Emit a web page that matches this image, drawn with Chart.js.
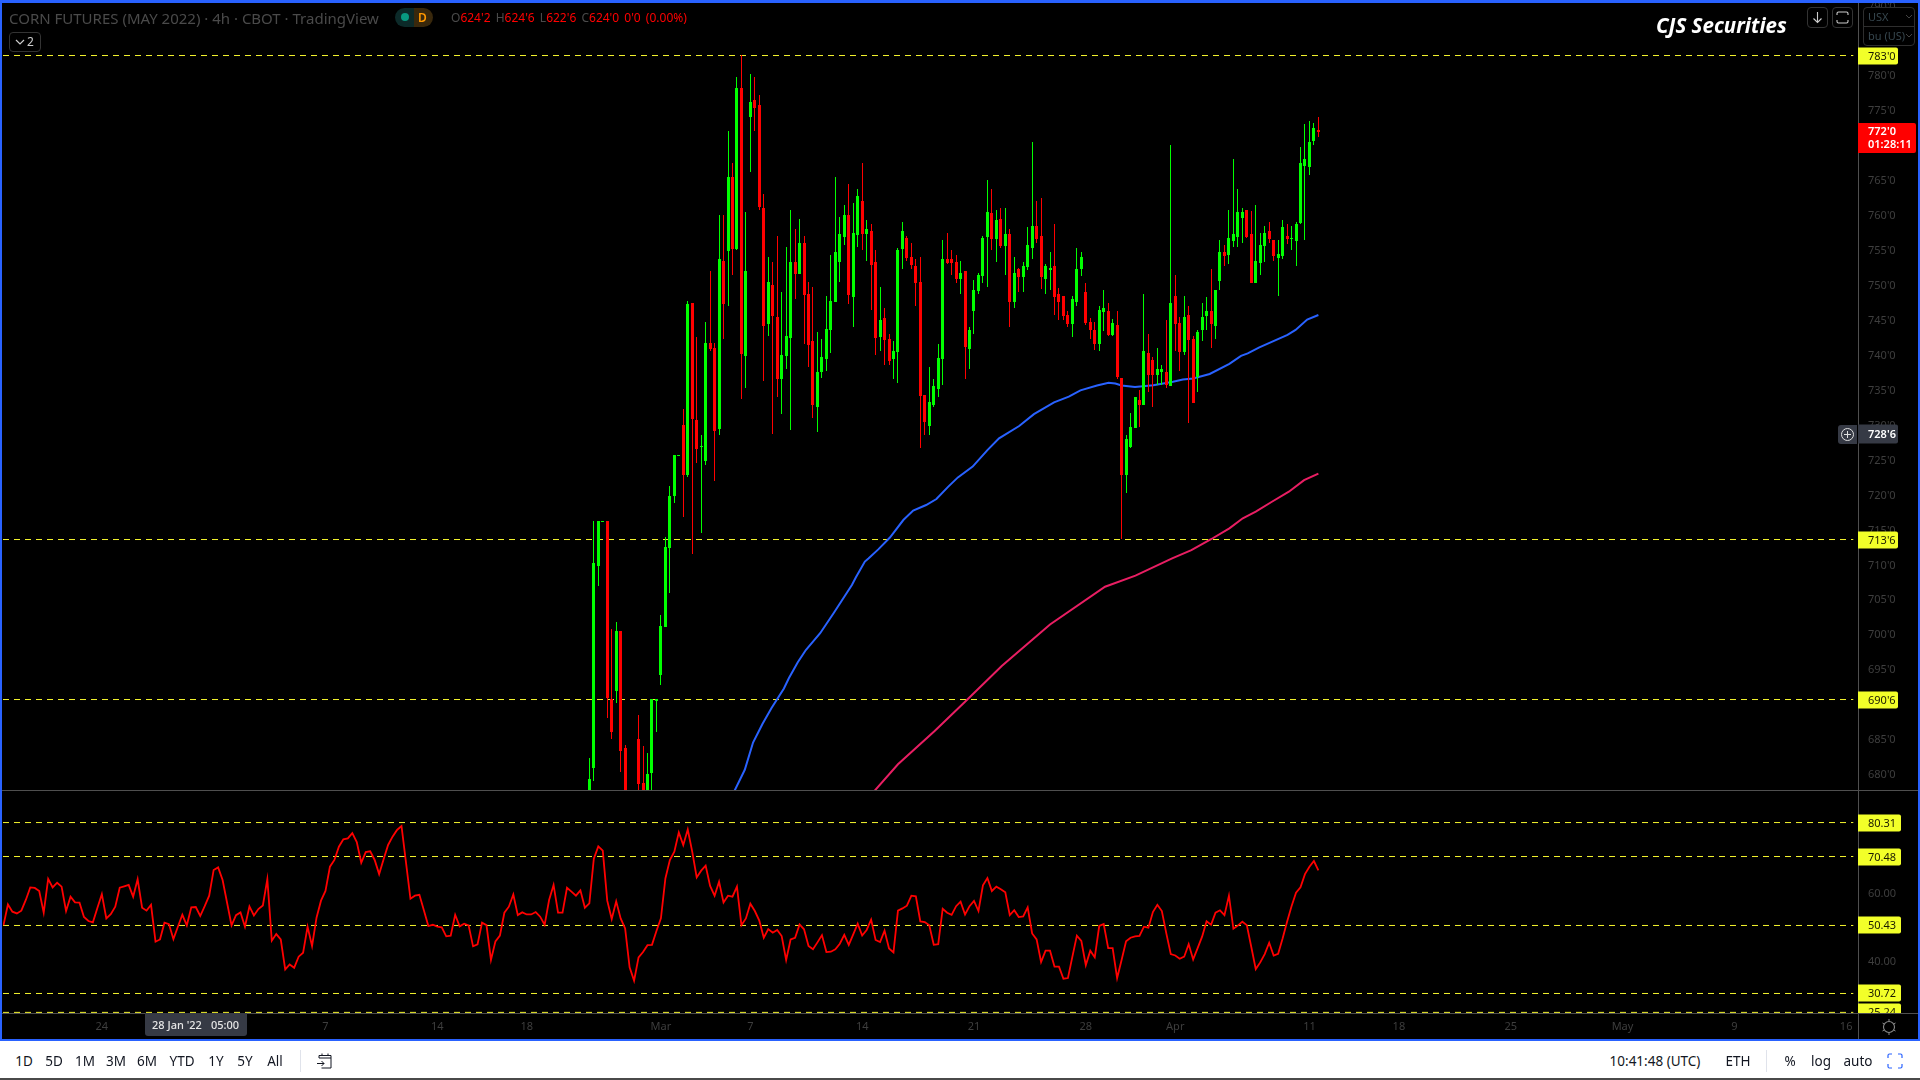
<!DOCTYPE html>
<html>
<head>
<meta charset="utf-8">
<title>CORN FUTURES (MAY 2022)</title>
<script src="https://cdn.jsdelivr.net/npm/chart.js@4.4.0/dist/chart.umd.js"></script>
<style>
    html, body { margin: 0; padding: 0; background: #fff; width: 1920px; height: 1080px; overflow: hidden; }
    body { font-family: "Noto Sans", sans-serif; position: relative; }
    canvas { position: absolute; left: 0; }
    .abs { position: absolute; white-space: nowrap; }
    .line { position: absolute; background: #4f4f4f; }
    .blue { position: absolute; background: #2962ff; }
    .tool { position: absolute; top: 1052px; line-height: 18px; font-size: 13.5px; color: #131722; transform: translateX(-50%); white-space: nowrap; }
    .box { position: absolute; border: 1px solid #2e2e2e; border-radius: 4px; box-sizing: border-box; }
</style>
</head>
<body>
<div class="abs" style="left:0;top:0;width:1920px;height:1040px;background:#000"></div>
<div class="line" style="left:2px;top:790px;width:1916px;height:1px"></div>
<div class="line" style="left:2px;top:1013px;width:1916px;height:1px"></div>
<div class="line" style="left:1858px;top:3px;width:1px;height:1037px"></div>
<canvas id="priceChart" width="1920" height="790" style="top:0"></canvas>
<canvas id="rsiChart" width="1920" height="250" style="top:790px"></canvas>

<div class="abs" style="left:9px;top:9px;font-size:15px;line-height:18px;color:#4a4a4a">CORN FUTURES (MAY 2022) · 4h · CBOT · TradingView</div>
<div class="abs" style="left:395px;top:8px;width:19px;height:19px;background:#0c2a29;border-radius:10px 0 0 10px"></div>
<div class="abs" style="left:414px;top:8px;width:19px;height:19px;background:#39280c;border-radius:0 10px 10px 0"></div>
<div class="abs" style="left:401px;top:13px;width:8px;height:8px;background:#089981;border-radius:50%"></div>
<div class="abs" style="left:418px;top:8px;font-size:12px;line-height:19px;font-weight:600;color:#ff9800">D</div>
<div class="abs" style="left:451px;top:9px;font-size:12px;line-height:18px;color:#ff0000;word-spacing:2px"><span style="color:#4a4a4a">O</span>624'2 <span style="color:#4a4a4a">H</span>624'6 <span style="color:#4a4a4a">L</span>622'6 <span style="color:#4a4a4a">C</span>624'0 0'0 (0.00%)</div>
<div class="box" style="left:9px;top:32px;width:32px;height:20px;border-color:#333"></div>
<svg class="abs" style="left:15px;top:38px" width="10" height="8"><path d="M1 2l4 4 4-4" fill="none" stroke="#ccc" stroke-width="1.2"/></svg>
<div class="abs" style="left:27px;top:32px;font-size:12px;line-height:20px;color:#ccc">2</div>

<div class="abs" style="left:1656px;top:12px;font-size:20.5px;line-height:26px;font-weight:700;font-style:italic;color:#fff">CJS Securities</div>
<div class="box" style="left:1807px;top:7px;width:21px;height:21px;border-color:#333"></div>
<svg class="abs" style="left:1811px;top:11px" width="13" height="13"><path d="M6.5 1v10M2.5 7.5l4 4 4-4" fill="none" stroke="#ccc" stroke-width="1.1"/></svg>
<div class="box" style="left:1832px;top:7px;width:21px;height:21px;border-color:#333"></div>
<svg class="abs" style="left:1836px;top:11px" width="13" height="13"><path d="M1 4V2.5Q1 1 2.5 1h8Q12 1 12 2.5V4M1 9v1.5Q1 12 2.5 12h8q1.500 0 1.500-1.500V9" fill="none" stroke="#ccc" stroke-width="1.100"/></svg>
<div class="box" style="left:1863px;top:7px;width:52px;height:39px;background:#000;border-color:#2e2e2e"></div>
<div class="abs" style="left:1864px;top:26px;width:50px;height:1px;background:#2e2e2e"></div>
<div class="abs" style="left:1868px;top:8px;font-size:11px;line-height:18px;color:#37474f">USX</div>
<div class="abs" style="left:1868px;top:27px;font-size:11px;line-height:18px;color:#37474f">bu (US)</div>
<svg class="abs" style="left:1905px;top:14px" width="8" height="6"><path d="M1 1l3 3 3-3" fill="none" stroke="#444" stroke-width="1"/></svg>
<svg class="abs" style="left:1905px;top:33px" width="8" height="6"><path d="M1 1l3 3 3-3" fill="none" stroke="#444" stroke-width="1"/></svg>

<div class="abs" style="left:1838px;top:425px;width:19px;height:19px;background:#363a45;border-radius:3px 0 0 3px"></div>
<svg class="abs" style="left:1840px;top:427px" width="15" height="15"><circle cx="7.500" cy="7.500" r="6" fill="none" stroke="#e0e0e0" stroke-width="1"/><path d="M7.500 4v7M4 7.500h7" stroke="#e0e0e0" stroke-width="1"/></svg>

<div class="abs" style="left:145px;top:1013px;width:102px;height:23px;background:#363a45;border-radius:0 0 3px 3px"></div>
<div class="abs" style="left:152px;top:1014px;font-size:11px;line-height:22px;font-weight:500;color:#e6e6e6">28 Jan '22</div>
<div class="abs" style="left:211px;top:1014px;font-size:11px;line-height:22px;font-weight:500;color:#e6e6e6">05:00</div>
<svg class="abs" style="left:1880px;top:1018px" width="18" height="18"><circle cx="9" cy="9" r="5.500" fill="none" stroke="#8a8a8a" stroke-width="1.100"/><path d="M9 1v2.500M9 14.500V17M2.500 5l2 1.200M13.500 11.800l2 1.200M2.500 13l2-1.200M13.500 6.200l2-1.200" stroke="#8a8a8a" stroke-width="1"/></svg>

<div class="blue" style="left:0;top:0;width:1920px;height:3px"></div>
<div class="blue" style="left:0;top:0;width:2px;height:1041px"></div>
<div class="blue" style="left:1918px;top:0;width:2px;height:1041px"></div>
<div class="blue" style="left:0;top:1039px;width:1920px;height:2px"></div>
<div class="abs" style="left:0;top:1078px;width:1920px;height:2px;background:#4a4a4a"></div>

<div class="tool" style="left:24px">1D</div>
<div class="tool" style="left:54px">5D</div>
<div class="tool" style="left:85px">1M</div>
<div class="tool" style="left:116px">3M</div>
<div class="tool" style="left:147px">6M</div>
<div class="tool" style="left:182px">YTD</div>
<div class="tool" style="left:216px">1Y</div>
<div class="tool" style="left:245px">5Y</div>
<div class="tool" style="left:275px">All</div>
<div class="abs" style="left:300px;top:1050px;width:1px;height:22px;background:#e0e3eb"></div>
<svg class="abs" style="left:316px;top:1052px" width="18" height="18"><path d="M3 6V3.500h12V16H5.500M3 6h12M6 1.500V4M12 1.500V4M1 11.500h7M5.500 9l2.500 2.500L5.500 14" fill="none" stroke="#131722" stroke-width="1"/></svg>
<div class="tool" style="left:1655px">10:41:48 (UTC)</div>
<div class="tool" style="left:1738px">ETH</div>
<div class="abs" style="left:1766px;top:1050px;width:1px;height:22px;background:#e0e3eb"></div>
<div class="tool" style="left:1790px">%</div>
<div class="tool" style="left:1821px">log</div>
<div class="tool" style="left:1858px">auto</div>
<svg class="abs" style="left:1887px;top:1053px" width="16" height="16"><path d="M1 5V2.500Q1 1 2.500 1H5M11 1h2.500Q15 1 15 2.500V5M15 11v2.500Q15 15 13.500 15H11M5 15H2.500Q1 15 1 13.500V11" fill="none" stroke="#2962ff" stroke-width="1.200"/></svg>

<script>
const opens = [
    675, 680.9, 709.8, 716.2, 716.2, 690.7, 691.9, 700.5, 683.7, 676,
    672, 685, 678.7, 676, 680.1, 690.4, 694.1, 701.1, 712.3, 719.8,
    725.7, 729.95, 722.8, 747.4, 730.7, 726.9, 724.8, 741.7, 741, 729.4,
    753.4, 754.9, 765.4, 755.1, 778.2, 739.8, 774, 776.5, 775.75, 761,
    744.4, 750, 745.4, 736.5, 739.8, 742.4, 753.3, 751.5, 756, 748.7,
    742, 732.5, 737.5, 739.4, 743.5, 747.55, 753.3, 756.85, 760, 748.3,
    757.15, 762, 757.3, 757.7, 753.3, 742.5, 745.3, 742.25, 739.4, 740.4,
    755.15, 756.7, 754, 752.7, 750.4, 734.25, 729.8, 732.8, 735.1, 739.4,
    753.7, 753.7, 753.3, 750.85, 752, 740.8, 746.3, 749.1, 751.3, 756.85,
    760.3, 756.6, 759.4, 755.6, 757.3, 747.55, 752.3, 751.1, 752.55, 755.3,
    758.4, 757, 750.85, 752.1, 752.7, 748.7, 748.4, 745.7, 744.4, 747.55,
    752.3, 749, 744.7, 743.55, 741.55, 746.1, 746.25, 742.85, 744.25, 736.65,
    722.8, 726.8, 729.5, 733.5, 732.8, 740.25, 739.25, 737.1, 737.55, 737.55,
    735.5, 748.4, 744.55, 740.4, 745.7, 742.25, 736.8, 743.5, 745.55, 746.25,
    744.1, 750.55, 754.7, 754.3, 756.3, 756.85, 759.55, 760.7, 757.3, 750.3,
    753.1, 755.55, 757.7, 756.4, 753.85, 754.1, 757, 756.55, 756.3, 758.85,
    767, 766.9, 770.6, 772.2
];
const highs = [
    682.25, 716.2, 716.2, 716.2, 716.2, 700.7, 701.75, 700.5, 684.15, 676.5,
    676, 688.45, 684, 683, 690.7, 690.7, 702.75, 713.9, 721.2, 725.7,
    725.7, 732.25, 747.7, 747.4, 742.55, 728.5, 744.7, 752, 741.7, 760,
    760, 772, 767.4, 779.8, 782.85, 760.4, 780.2, 779.8, 777.2, 763,
    754, 753.3, 757, 749, 755.4, 760.7, 758, 759.4, 757, 750.4,
    749.7, 743.25, 742.25, 748.4, 754.3, 765.4, 759.7, 761.4, 764.4, 761.7,
    763.7, 767.4, 759.3, 758.7, 755, 749.7, 746.7, 743, 742, 755.3,
    759, 757, 756, 753.7, 754, 734.25, 738.25, 736.5, 741.5, 756.4,
    757.4, 755, 754.3, 753.4, 752, 744, 750.7, 751.7, 757, 765,
    763.7, 760.7, 761, 761, 758, 754, 752.4, 753.3, 758.3, 770.45,
    762, 762.4, 753, 754.7, 758.7, 749.55, 748.4, 746.25, 748.4, 755.3,
    754.7, 750.3, 745.25, 744.7, 747, 749.3, 747.4, 745.1, 746.25, 736.65,
    728.5, 731.65, 733.95, 734.95, 748.7, 743, 739.7, 741, 738.55, 745,
    770, 751.4, 745.4, 748.4, 747, 742.7, 743.5, 747.4, 748.25, 752.3,
    749.3, 756.4, 755.7, 760.7, 768, 763.7, 761, 760.7, 760.55, 761.4,
    757.4, 758.4, 759, 756.4, 756.4, 759.3, 758.7, 758.4, 759, 769.7,
    773, 773.5, 773.2, 774
];
const lows = [
    673, 679.05, 706.95, 716.2, 688, 685.05, 690.2, 680.35, 672, 670,
    670, 676, 675, 675, 676.5, 686.05, 692.75, 701.1, 705.9, 718.8,
    725.7, 716.75, 722.5, 711.5, 724.5, 714.5, 724.2, 740.5, 722, 728.5,
    742.3, 747, 751.4, 755, 733.7, 735.3, 766.2, 772, 760.7, 736.3,
    742.7, 728.65, 734, 731.5, 738, 729.2, 748, 751.5, 741.5, 738.25,
    731, 729, 736.7, 737.7, 740.25, 747.55, 750.4, 755.7, 747.3, 744,
    755.4, 755, 753.4, 746.4, 740, 740.5, 738.5, 738.5, 736.5, 736,
    752.3, 753.4, 752.3, 747, 726.65, 728.5, 728.5, 732.5, 734, 735.7,
    753, 751.4, 750.3, 748.7, 736.5, 738, 743, 748.7, 750.3, 749.7,
    755, 753.3, 755.3, 751.4, 744, 746.7, 749, 749, 752.1, 753.7,
    756, 749.4, 748.7, 749.3, 745.7, 745, 745, 744, 742.5, 747,
    751.3, 744.25, 742.25, 740.7, 740.5, 743.4, 742.7, 742.7, 736.5, 713.6,
    720.2, 726.65, 729.5, 729.65, 732.8, 734.65, 732.5, 735.7, 735.7, 735.25,
    735.5, 740.5, 737.7, 740, 730.2, 733.1, 734.65, 742, 743.5, 741,
    742.25, 749.3, 752.7, 753, 755.4, 755.4, 756, 756.7, 750.3, 750.3,
    751.4, 753.3, 756, 753.4, 748.4, 753.7, 755.85, 755, 752.7, 758.7,
    756.4, 765.7, 770, 771.2
];
const closes = [
    679.3, 710.15, 716.2, 716.2, 690.9, 686.05, 700.45, 683.35, 676, 673,
    675, 678.6, 676, 680, 690.7, 690.7, 701.2, 712.5, 719.8, 725.7,
    725.7, 722.8, 747.3, 730.8, 726.5, 727, 741.7, 740.8, 729.1, 753.7,
    747.3, 765.4, 755.1, 778.2, 740.1, 752, 776.2, 775.3, 761.15, 744.1,
    750.4, 745.55, 736.5, 740, 742.7, 753.3, 751.5, 756, 748.5, 741.4,
    732.8, 737.5, 739.7, 743.7, 747.7, 754.7, 757.3, 760, 748.55, 757.4,
    762.7, 757.3, 758, 752.85, 742.4, 745, 742.1, 739.1, 740.5, 755,
    757.7, 753.85, 752.85, 750.3, 734.1, 730.4, 733.25, 735.5, 739.5, 753.7,
    753.1, 753.1, 750.85, 751.7, 741.1, 743.5, 749.3, 751.4, 756.7, 760.4,
    756.6, 759.3, 755.6, 757.3, 747.55, 751.7, 751.1, 752.7, 755.7, 758.4,
    756.6, 751.1, 752.7, 752.4, 748.3, 747.55, 745.55, 744.4, 748, 752.3,
    754, 744.55, 743.55, 741.55, 746.4, 746.7, 742.85, 744.55, 736.8, 722.8,
    727.95, 729.65, 733.95, 732.8, 740.5, 737.1, 737.1, 738, 738, 735.7,
    747.4, 744.4, 740.4, 745.4, 742.1, 733.1, 743.25, 745.4, 746.25, 744.4,
    749.3, 754.7, 754.1, 756.7, 757.3, 760.4, 760.4, 756.85, 750.3, 753.4,
    755.7, 757.4, 756.6, 754.1, 754.4, 758.3, 756.6, 756.7, 758.7, 767.4,
    768, 770.45, 772.45, 771.9
];

// slow and fast moving averages, read at the bends of each curve
const blueBars = [32, 34.75, 36.6, 38.7, 40.7, 43.5, 44.6, 46.6, 48.4, 51.6, 54.6, 58.7, 59.6, 61.6, 62.4, 64.6, 67.2, 70.2, 72.4, 75.3, 77.6, 80.2, 82.4, 85.7, 89, 91.6, 96.1, 99.4, 103.9, 107.2, 109.8, 113.5, 116.1, 117.6, 119, 122, 126.1, 130.5, 132.7, 135, 138.7, 143.1, 145.7, 147.2, 149.8, 156.1, 157.9, 160.5, 163];
const blueValues = [677, 680.6, 684.5, 687.15, 689.4, 692.25, 693.7, 696, 697.75, 700.15, 703, 707.05, 708.15, 710.4, 710.85, 712.15, 713.85, 716.35, 717.7, 718.5, 719.35, 721.1, 722.45, 724, 726.35, 728.05, 729.8, 731.5, 733.2, 734, 734.9, 735.6, 736, 735.9, 735.6, 735.4, 735.65, 736.15, 736.45, 736.6, 737.25, 738.7, 739.85, 740.2, 741.05, 742.85, 743.55, 745.05, 745.7];
const pinkBars = [63.5, 69, 77.2, 84, 92.2, 103, 115.3, 122.1, 130.3, 134.6, 139, 143.1, 146.1, 149, 152.7, 156.4, 159.8, 163];
const pinkValues = [677.4, 681.4, 686.15, 690.35, 695.45, 701.4, 706.8, 708.4, 710.85, 712.05, 713.6, 715.15, 716.6, 717.55, 719, 720.4, 722.05, 723];

const rsiValues = [
    50.43, 56.5, 54.4, 53.9, 54.7, 57.8, 61.45, 61.3, 60.4, 54.1, 63.9, 61.45, 62.8, 61.65, 54.6, 58.75, 57.1, 57, 52.85, 51.7,
    51.3, 55.45, 59.5, 52.45, 53.7, 55.85, 61.35, 61.75, 62.15, 58.75, 63.8, 55.55, 54.7, 56.4, 45.7, 46.35, 51.2, 50.8, 46.45, 50.05,
    53.5, 50.45, 55.65, 55.75, 53.15, 56, 59.05, 66.5, 67.25, 63.6, 57, 50.45, 53.4, 54.2, 50.05, 55.95, 53.3, 55.15, 56.2, 63.8,
    46, 47.9, 46.35, 37.65, 39.1, 38.15, 41.35, 42.5, 50.05, 44.45, 52.65, 57.6, 60.4, 67.45, 69.4, 73.25, 75.4, 75.65, 77.2, 74.6,
    68.6, 71.7, 71.9, 69.4, 65.3, 69.6, 73.75, 76.15, 78.1, 79.25, 68.7, 58.15, 59.05, 59.3, 54.85, 50.25, 50.6, 50.05, 49.85, 47.25,
    47.45, 53.5, 50.15, 50.9, 50.45, 44.35, 44.9, 51.2, 50.5, 40.4, 45.8, 47.45, 54.1, 55.85, 59.4, 53.4, 54.2, 53.6, 53.6, 54.3,
    52.95, 50.6, 57.8, 62.15, 54.1, 54.1, 61.35, 60.2, 59.05, 60.6, 55.55, 56.8, 69.75, 73.35, 72.1, 57.6, 52.3, 57.4, 52.45, 49.55,
    38.25, 34.4, 41.15, 42.7, 44.7, 44.8, 48.8,
    52.45, 64.05, 69.4, 71.8, 77.4, 73.75, 78.2, 71.8, 64.35, 66.3, 67.75, 61.85, 59.05, 63.1, 57.1, 59.05, 58.75, 61.65, 50.5, 52.45,
    56.7, 54.6, 51.8, 46.85, 49.35, 48.3, 49.1, 47.35, 40.4, 46.35, 46.85, 50.7, 49.3, 44.45, 43.5, 45.5, 47.6, 42.7, 42.8, 43.5,
    45.1, 47.7, 44.75, 47.8, 50.9, 47.5, 49.1, 52.1, 46.2, 45.6, 48.9, 43.75, 42.6, 54.7, 55.35, 56.15, 59.05, 58.85, 51.6, 51.4,
    50.45, 44.8, 45, 55.25, 54.1, 53.5, 56, 57.3, 53.6, 56, 57.5, 54.6, 62.05, 64.15, 60.4, 61.65, 60.9, 60, 53.4, 54.85,
    52.85, 53.05, 55.65, 48.1, 46.35, 39.8, 43.1, 43.1, 38.45, 38.45, 34.95, 35.15, 41.35, 47.45, 45.9, 38.9, 43.1, 41.15, 50.25, 50.8,
    43.85, 43.85, 35.15, 40.4, 45.8, 46.85, 47.25, 47.35, 50.05, 49.75, 54.3, 56.4, 54.6, 48.1, 42.1, 41.7, 40.75, 41.35, 45, 40.55,
    43.85, 47.15, 51.6, 50.6, 54.1, 54.8, 53.4, 59.05, 49.45, 50.35, 51.5, 50.5, 44.15, 37.75, 39.7, 42.1, 45.4, 41.7, 42.2, 46.65,
    51.5, 56, 59.9, 61.45, 65.3, 67.45, 69.1, 66.4
];
const rsiFirstBar = -131;

const priceTicks = [790, 780, 775, 765, 760, 755, 750, 745, 740, 735, 730, 725, 720, 715, 710, 705, 700, 695, 685, 680];
const rsiTicks = [60, 40];
const timeTickBars = [-109, -59, -34, -14, 16, 36, 61, 86, 111, 131, 161, 181, 206, 231, 256, 281];
const timeTickLabels = ['24', '7', '14', '18', 'Mar', '7', '14', '21', '28', 'Apr', '11', '18', '25', 'May', '9', '16'];

const priceLevels = [782.83, 713.56, 690.66];
const priceLevelLabels = ["783'0", "713'6", "690'6"];
const rsiLevels = [80.25, 70.4, 50.4, 30.68, 25.2];
const rsiLevelLabels = ['80.31', '70.48', '50.43', '30.72', '25.24'];
const lastPrice = 771.9;
const crosshairPrice = 728.75;

const FONT = '"Noto Sans", sans-serif';
const BAR_MIN = -131.1;
const BAR_MAX = 283.65;
const LEVEL_END = 282.6;
const GREEN = '#00ff00';
const RED = '#ff0000';
const YELLOW = '#f2ff29';
const TICK_COLOR = '#3e3e3e';

Chart.defaults.animation = false;
Chart.defaults.font.family = FONT;

const barIndex = opens.map((_, i) => i);
const upBars = barIndex.filter(i => closes[i] >= opens[i]);
const downBars = barIndex.filter(i => closes[i] < opens[i]);

function wickSet(bars, color) {
    return {
        type: 'bar', order: 2, grouped: false, barThickness: 1, backgroundColor: color, inflateAmount: 0, borderWidth: 0,
        data: bars.map(i => ({ x: i, y: [lows[i], highs[i]] }))
    };
}

function bodySet(bars, color) {
    return {
        type: 'bar', order: 1, grouped: false, barThickness: 3, backgroundColor: color, inflateAmount: 0, borderWidth: 0,
        data: bars.map(i => ({ x: i, y: [opens[i], closes[i]] }))
    };
}

function curveSet(xs, ys, color, width, order) {
    return {
        type: 'line', order: order, borderColor: color, borderWidth: width, pointRadius: 0, tension: 0,
        data: xs.map((x, i) => ({ x: x, y: ys[i] }))
    };
}

function levelSet(value) {
    return {
        type: 'line', order: 4, borderColor: '#f5f52e', borderWidth: 1, borderDash: [6, 5], pointRadius: 0,
        data: [{ x: BAR_MIN, y: value }, { x: LEVEL_END, y: value }]
    };
}

// keep candles on whole pixels, otherwise the 1px wicks smear
const snapBars = {
    id: 'snapBars',
    beforeDatasetsDraw(chart) {
        chart.getSortedVisibleDatasetMetas().forEach(meta => {
            if (meta.type !== 'bar') return;
            meta.data.forEach(el => {
                el.x = Math.floor(el.x) + 0.5;
                el.y = Math.round(el.y);
                el.base = Math.round(el.base);
                if (el.base === el.y) el.base = el.y + 1;
            });
        });
    }
};

function drawTag(ctx, left, y, width, height, color, lines, textColor, bold) {
    ctx.fillStyle = color;
    ctx.beginPath();
    ctx.roundRect(left, y - height / 2, width, height, [0, 2, 2, 0]);
    ctx.fill();
    ctx.fillStyle = textColor;
    ctx.font = (bold ? '600 ' : '') + '11px ' + FONT;
    ctx.textBaseline = 'middle';
    ctx.textAlign = 'left';
    lines.forEach((text, i) => {
        ctx.fillText(text, left + 10, y + (i - (lines.length - 1) / 2) * 13 + 0.5);
    });
}

const priceTags = {
    id: 'priceTags',
    afterDraw(chart) {
        const { ctx, scales } = chart;
        const left = chart.chartArea.right;
        priceLevels.forEach((value, i) => {
            const y = Math.round(scales.y.getPixelForValue(value));
            drawTag(ctx, left, y, 40, 17, YELLOW, [priceLevelLabels[i]], '#1a1a00', false);
        });
        drawTag(ctx, left, Math.round(scales.y.getPixelForValue(lastPrice)) + 6, 58, 30, RED, ["772'0", '01:28:11'], '#ffffff', true);
        drawTag(ctx, left, Math.round(scales.y.getPixelForValue(crosshairPrice)) + 1, 40, 19, '#363a45', ["728'6"], '#ffffff', true);
    }
};

const rsiTags = {
    id: 'rsiTags',
    afterDraw(chart) {
        const { ctx, scales } = chart;
        const left = chart.chartArea.right;
        ctx.save();
        ctx.beginPath();
        ctx.rect(0, 0, chart.width, chart.chartArea.bottom);
        ctx.clip();
        rsiLevels.forEach((value, i) => {
            const y = Math.round(scales.y.getPixelForValue(value));
            drawTag(ctx, left, y, 43, 17, YELLOW, [rsiLevelLabels[i]], '#1a1a00', false);
        });
        ctx.restore();
    }
};

function fixedAxis(width) {
    return scale => {
        scale.width = width;
        scale.paddingTop = 0;
        scale.paddingBottom = 0;
    };
}

new Chart(document.getElementById('priceChart'), {
    type: 'bar',
    data: {
        datasets: [
            wickSet(upBars, GREEN),
            wickSet(downBars, RED),
            bodySet(upBars, GREEN),
            bodySet(downBars, RED),
            curveSet(blueBars, blueValues, '#2962ff', 2, 3),
            curveSet(pinkBars, pinkValues, '#e91e63', 2, 3)
        ].concat(priceLevels.map(levelSet))
    },
    options: {
        responsive: false,
        layout: { padding: { left: 3, right: 0, top: 3, bottom: 0 } },
        plugins: { legend: { display: false }, tooltip: { enabled: false } },
        scales: {
            x: { type: 'linear', min: BAR_MIN, max: BAR_MAX, offset: false, display: false, grid: { display: false } },
            y: {
                position: 'right', min: 677.71, max: 790.348,
                grid: { display: false, drawTicks: false },
                border: { display: false },
                afterFit: fixedAxis(62),
                afterBuildTicks: scale => { scale.ticks = priceTicks.map(value => ({ value })); },
                ticks: {
                    color: TICK_COLOR, padding: 10, autoSkip: false, crossAlign: 'near', labelOffset: 1,
                    font: { size: 11 },
                    callback: value => value + "'0"
                }
            }
        }
    },
    plugins: [snapBars, priceTags]
});

new Chart(document.getElementById('rsiChart'), {
    type: 'line',
    data: {
        datasets: [
            curveSet(rsiValues.map((_, i) => rsiFirstBar + i), rsiValues, RED, 1.8, 1)
        ].concat(rsiLevels.map(levelSet))
    },
    options: {
        responsive: false,
        layout: { padding: { left: 3, right: 0, top: 1, bottom: 0 } },
        plugins: { legend: { display: false }, tooltip: { enabled: false } },
        scales: {
            x: {
                type: 'linear', min: BAR_MIN, max: BAR_MAX, offset: false,
                grid: { display: false, drawTicks: false },
                border: { display: false },
                afterFit: scale => { scale.height = 27; },
                afterBuildTicks: scale => { scale.ticks = timeTickBars.map(value => ({ value })); },
                ticks: {
                    color: TICK_COLOR, padding: 7, autoSkip: false, maxRotation: 0,
                    font: { size: 11 },
                    callback: (value, i) => timeTickLabels[i]
                }
            },
            y: {
                position: 'right', min: 25.02, max: 89.4,
                grid: { display: false, drawTicks: false },
                border: { display: false },
                afterFit: fixedAxis(62),
                afterBuildTicks: scale => { scale.ticks = rsiTicks.map(value => ({ value })); },
                ticks: {
                    color: TICK_COLOR, padding: 10, autoSkip: false, crossAlign: 'near', labelOffset: 1,
                    font: { size: 11 },
                    callback: value => value.toFixed(2)
                }
            }
        }
    },
    plugins: [rsiTags]
});
</script>
</body>
</html>
